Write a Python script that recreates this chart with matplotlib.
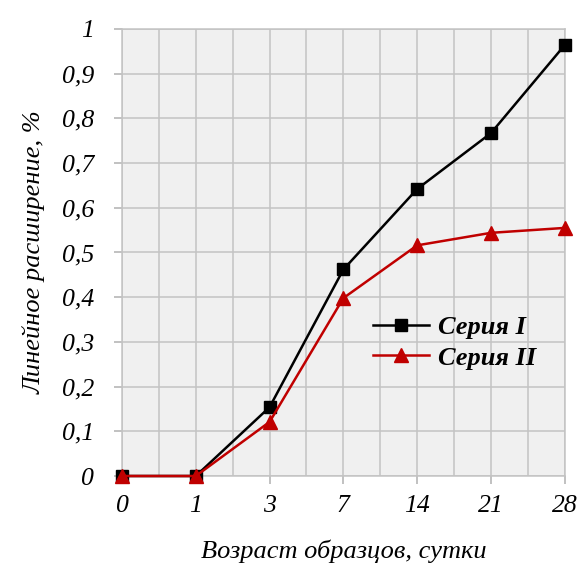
import numpy as np
import matplotlib
matplotlib.use('Agg')
import matplotlib.pyplot as plt

# данные
days = ['0', '1', '3', '7', '14', '21', '28']
seria1 = [0.0, 0.0, 0.154, 0.462, 0.642, 0.767, 0.964]
seria2 = [0.0, 0.0, 0.121, 0.398, 0.516, 0.544, 0.555]
yticks = [0, 0.1, 0.2, 0.3, 0.4, 0.5, 0.6, 0.7, 0.8, 0.9, 1]
ytick_labels = ['0', '0,1', '0,2', '0,3', '0,4', '0,5', '0,6', '0,7', '0,8', '0,9', '1']

plt.rcParams['font.family'] = 'Liberation Serif'
plt.rcParams['font.style'] = 'italic'

fig = plt.figure(figsize=(5.81, 5.65), dpi=100)
ax = fig.add_axes([0.21, 0.1575, 0.762, 0.7912])
ax.set_facecolor('#f0f0f0')

xpos = np.arange(len(days))
red = '#c00000'

ax.plot(xpos, seria1, color='black', lw=1.8, marker='s', ms=8.5,
        zorder=4, clip_on=False, label='Серия I')
ax.plot(xpos, seria2, color=red, lw=1.8, marker='^', ms=9.5,
        zorder=5, clip_on=False, label='Серия II')

ax.set_xlim(0, 6)
ax.set_ylim(0, 1)
ax.set_xticks(xpos)
ax.set_xticklabels(days)
ax.set_xticks(np.arange(0.5, 6, 1), minor=True)
ax.set_yticks(yticks)
ax.set_yticklabels(ytick_labels)

ax.grid(True, which='both', color='#c3c3c3', lw=1.1)
ax.tick_params(axis='x', which='minor', length=0)
ax.tick_params(axis='both', which='major', length=6, width=1.1, color='#b0b0b0',
               labelsize=18.5)
ax.tick_params(axis='x', pad=8)
ax.tick_params(axis='y', pad=14)
for s in ax.spines.values():
    s.set_color('#c3c3c3')
    s.set_linewidth(1.1)
ax.set_axisbelow(True)

ax.set_xlabel('Возраст образцов, сутки', fontsize=19, labelpad=16)
ax.set_ylabel('Линейное расширение, %', fontsize=19, labelpad=12)

ax.legend(loc='center left', bbox_to_anchor=(0.568, 0.298), frameon=False,
          handlelength=2.1, handletextpad=0.35, labelspacing=0.25,
          borderpad=0, borderaxespad=0,
          prop={'family': 'Liberation Serif', 'style': 'italic',
                'weight': 'bold', 'size': 19})

fig.savefig('out.png', dpi=100)
